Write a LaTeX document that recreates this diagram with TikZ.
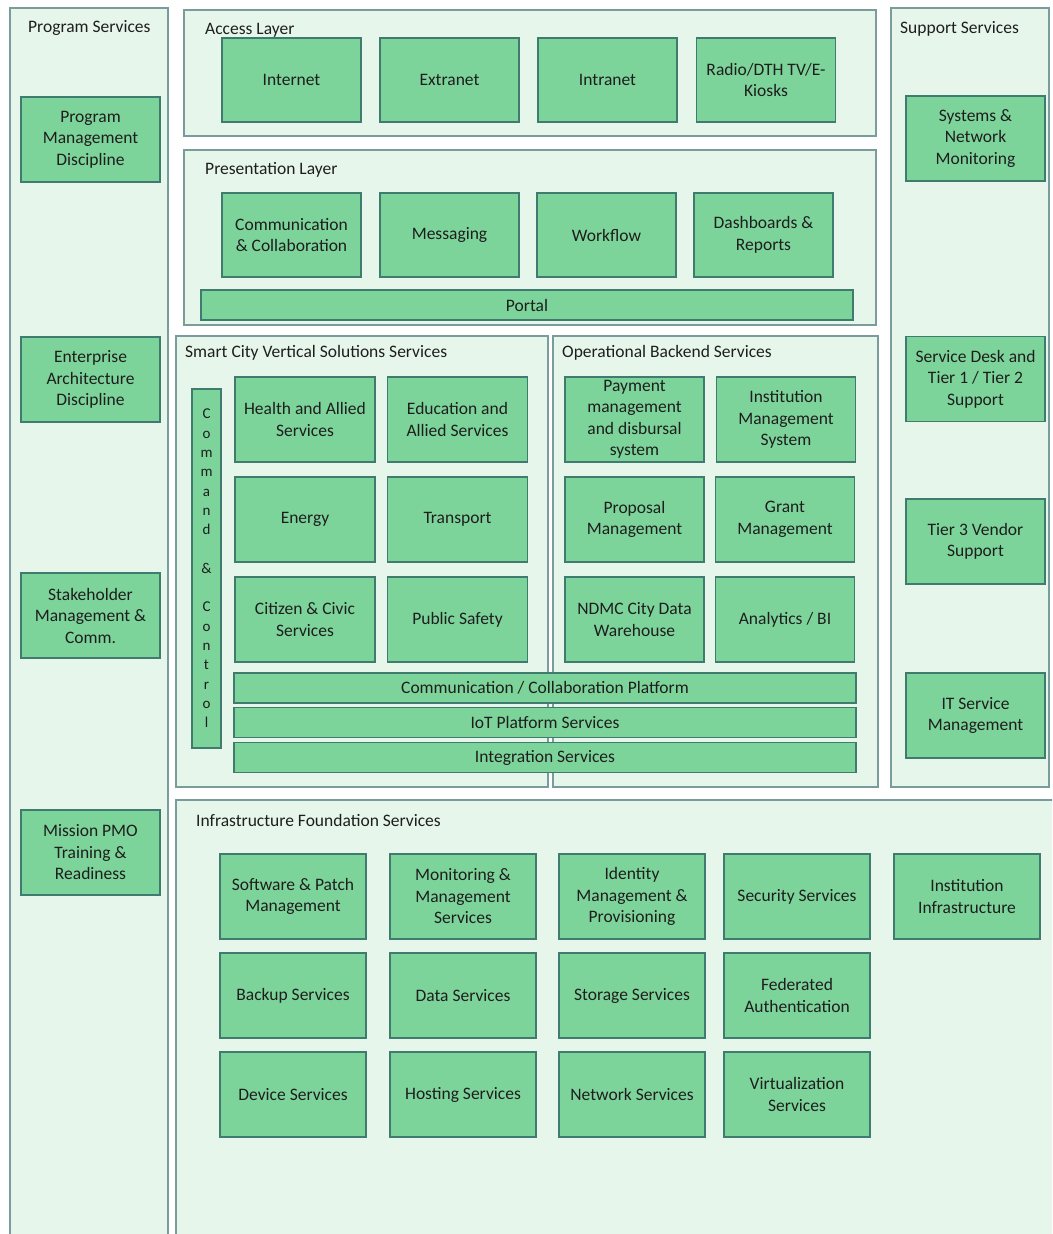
\documentclass[tikz,border=0pt]{standalone}
\usepackage{fontspec}
\setmainfont{Carlito}
\definecolor{panelfill}{HTML}{E7F6EB}
\definecolor{panelline}{HTML}{7A9C9C}
\definecolor{boxfill}{HTML}{7DD49A}
\definecolor{boxline}{HTML}{3F7B6E}
\definecolor{textcol}{HTML}{1E1E1E}

\begin{document}
\begin{tikzpicture}[x=1pt, y=-1pt,
  panel/.style={draw=panelline, fill=panelfill, line width=1.5pt},
  ttl/.style={anchor=west, inner sep=0pt, text=textcol, font=\fontsize{17.5}{21}\selectfont},
  svc/.style={draw=boxline, fill=boxfill, line width=1.5pt, minimum width=139pt, minimum height=85pt,
    align=center, inner sep=0pt, text=textcol, font=\fontsize{17.5}{21.5}\selectfont},
  infra/.style={svc, minimum width=146pt},
  bar/.style={svc, minimum height=30pt}]
\clip (0,0) rectangle (1052,1234);

% outer panels
\draw[panel] (10,8) rectangle (168,1250);
\draw[panel] (184,10) rectangle (876,136);
\draw[panel] (184,150) rectangle (876,325);
\draw[panel] (176,336) rectangle (548,787);
\draw[panel] (553,336) rectangle (878,787);
\draw[panel] (891,8) rectangle (1049,787);
\draw[panel] (176,800) rectangle (1060,1250);

\node[ttl] (progT) at (28,28) {Program Services};
\node[ttl] (accT) at (205,30) {Access Layer};
\node[ttl] (presT) at (205,170) {Presentation Layer};
\node[ttl] (smartT) at (185,353) {Smart City Vertical Solutions Services};
\node[ttl] (opsT) at (562,353) {Operational Backend Services};
\node[ttl] (suppT) at (900,29) {Support Services};
\node[ttl] (infT) at (196,820) {Infrastructure Foundation Services};

% program services
\node[svc] (pmd) at (90.5,139.5) {Program\\Management\\Discipline};
\node[svc] (ead) at (90.5,379.5) {Enterprise\\Architecture\\Discipline};
\node[svc] (smc) at (90.5,615.5) {Stakeholder\\Management \&\\Comm.};
\node[svc] (pmo) at (90.5,852.5) {Mission PMO\\Training \&\\Readiness};

% access layer
\node[svc, minimum height=84pt] (inet) at (291.5,80) {Internet};
\node[svc, minimum height=84pt] (extra) at (449.5,80) {Extranet};
\node[svc, minimum height=84pt] (intra) at (607.5,80) {Intranet};
\node[svc, minimum height=84pt] (radio) at (766,80) {Radio/DTH TV/E-\\Kiosks};

% presentation layer
\node[svc, minimum height=84pt] (comm) at (291.5,235) {Communication\\\& Collaboration};
\node[svc, minimum height=84pt] (msg) at (449.5,235) {Messaging};
\node[svc, minimum height=84pt] (wflow) at (606.5,235) {Workflow};
\node[svc, minimum height=84pt] (dash) at (763.5,235) {Dashboards \&\\Reports};
\node[bar, minimum width=652pt] (portal) at (527,305) {Portal};

% smart city verticals
\node[svc, minimum width=29pt, minimum height=359pt, font=\fontsize{15}{19.3}\selectfont]
  (cmd) at (206.5,568.5) {C\\o\\m\\m\\a\\n\\d\\[19.3pt]\&\\[19.3pt]C\\o\\n\\t\\r\\o\\l};
\node[svc, minimum width=140pt] (health) at (305,419.5) {Health and Allied\\Services};
\node[svc, minimum width=140pt] (edu) at (457.5,419.5) {Education and\\Allied Services};
\node[svc, minimum width=140pt] (energy) at (305,519.5) {Energy};
\node[svc, minimum width=140pt] (trans) at (457.5,519.5) {Transport};
\node[svc, minimum width=140pt] (civic) at (305,619.5) {Citizen \& Civic\\Services};
\node[svc, minimum width=140pt] (safety) at (457.5,619.5) {Public Safety};

% operational backend
\node[svc] (pay) at (634.5,419.5) {Payment\\management\\and disbursal\\system};
\node[svc] (ims) at (786,419.5) {Institution\\Management\\System};
\node[svc] (prop) at (634.5,519.5) {Proposal\\Management};
\node[svc] (grant) at (785,519.5) {Grant\\Management};
\node[svc] (ndmc) at (634.5,619.5) {NDMC City Data\\Warehouse};
\node[svc] (bi) at (785,619.5) {Analytics / BI};

\node[bar, minimum width=622pt] (ccp) at (545,688) {Communication / Collaboration Platform};
\node[bar, minimum width=622pt] (iot) at (545,722.5) {IoT Platform Services};
\node[bar, minimum width=622pt] (integ) at (545,757.5) {Integration Services};

% support services
\node[svc] (snm) at (975.5,138.5) {Systems \&\\Network\\Monitoring};
\node[svc] (desk) at (975.5,379) {Service Desk and\\Tier 1 / Tier 2\\Support};
\node[svc] (vend) at (975.5,541.5) {Tier 3 Vendor\\Support};
\node[svc] (itsm) at (975.5,715.5) {IT Service\\Management};

% infrastructure foundation
\node[infra] (patch) at (293,896.5) {Software \& Patch\\Management};
\node[infra] (monit) at (463,896.5) {Monitoring \&\\Management\\Services};
\node[infra] (idm) at (632,896.5) {Identity\\Management \&\\Provisioning};
\node[infra] (sec) at (797,896.5) {Security Services};
\node[infra] (instinf) at (967,896.5) {Institution\\Infrastructure};
\node[infra] (backup) at (293,995.5) {Backup Services};
\node[infra] (data) at (463,995.5) {Data Services};
\node[infra] (store) at (632,995.5) {Storage Services};
\node[infra] (fed) at (797,995.5) {Federated\\Authentication};
\node[infra] (dev) at (293,1094.5) {Device Services};
\node[infra] (host) at (463,1094.5) {Hosting Services};
\node[infra] (net) at (632,1094.5) {Network Services};
\node[infra] (virt) at (797,1094.5) {Virtualization\\Services};
\end{tikzpicture}
\end{document}
